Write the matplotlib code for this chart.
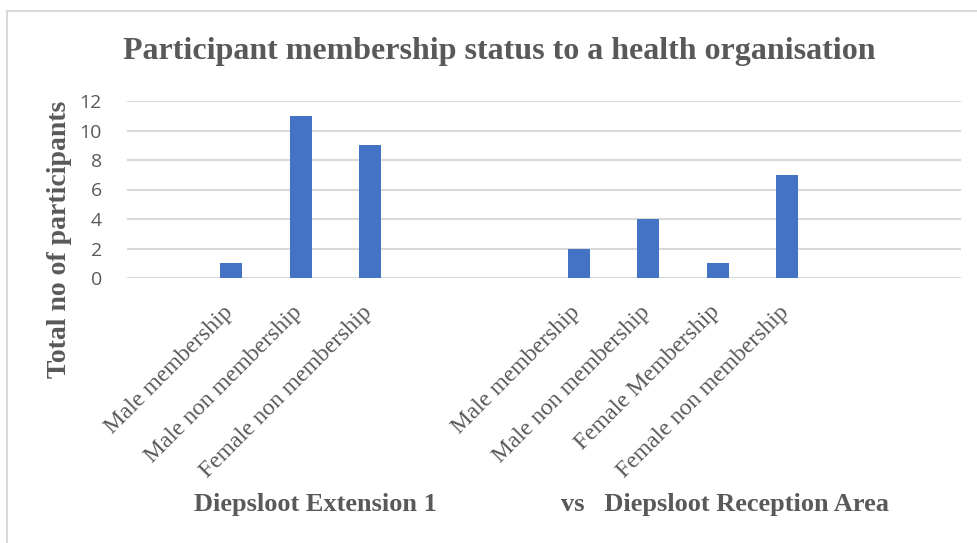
import matplotlib.pyplot as plt
import numpy as np
from matplotlib.lines import Line2D
from matplotlib.transforms import ScaledTranslation

# Category slots along the x axis (blank slots keep the two sites apart)
categories = [
    "",
    "Male membership",
    "Male non membership",
    "Female non membership",
    "",
    "",
    "Male membership",
    "Male non membership",
    "Female Membership",
    "Female non membership",
    "",
    "",
]
participants = [np.nan, 1, 11, 9, np.nan, np.nan, 2, 4, 1, 7, np.nan, np.nan]
y_ticks = [0, 2, 4, 6, 8, 10, 12]

title = "Participant membership status to a health organisation"
y_title = "Total no of participants"
site_a = "Diepsloot Extension 1"
site_b = "vs   Diepsloot Reception Area"

BAR = "#4472C4"
GRID = "#D9D9D9"
TEXT = "#595959"
SERIF = "Liberation Serif"
SANS = "Open Sans"

W, H = 977, 543
fig = plt.figure(figsize=(W / 100, H / 100), dpi=100)
ax = fig.add_axes([127 / W, 1 - 278 / H, (961 - 127) / W, (278 - 101) / H])

x = np.arange(len(categories))
ax.bar(x, participants, width=0.31, color=BAR, zorder=3)

ax.set_xlim(-0.5, len(categories) - 0.5)
ax.set_ylim(0, 12)
ax.set_yticks(y_ticks)
ax.set_yticklabels([str(v) for v in y_ticks], fontsize=14, color=TEXT, family=SANS)
ax.set_xticks(x)
ax.set_xticklabels(categories, rotation=45, ha="right", va="top",
                   rotation_mode="anchor", fontsize=17, color=TEXT, family=SERIF)
ax.tick_params(axis="both", length=0)
ax.tick_params(axis="x", pad=17)
ax.tick_params(axis="y", pad=18)
ax.grid(axis="y", color=GRID, linewidth=1.5, zorder=0)
for side in ax.spines.values():
    side.set_visible(False)

# nudge the slanted labels so their ends sit under the bars
nudge = ScaledTranslation(-9 / 100, 0, fig.dpi_scale_trans)
for lab in ax.get_xticklabels():
    lab.set_transform(lab.get_transform() + nudge)

fig.text(0.5 * (123 + 875) / W, 1 - 51 / H, title, ha="center", va="center",
         fontsize=23, fontweight="bold", color=TEXT, family=SERIF)
fig.text(60 / W, 1 - 239 / H, y_title, rotation=90, ha="center", va="center",
         fontsize=20, fontweight="bold", color=TEXT, family=SERIF)
fig.text(315 / W, 1 - 505 / H, site_a, ha="center", va="center",
         fontsize=19, fontweight="bold", color=TEXT, family=SERIF)
fig.text(725 / W, 1 - 505 / H, site_b, ha="center", va="center",
         fontsize=19, fontweight="bold", color=TEXT, family=SERIF)

# light frame along the top and left edges
fig.add_artist(Line2D([7 / W, 1], [1 - 11 / H] * 2, color=GRID, linewidth=1.5))
fig.add_artist(Line2D([7 / W] * 2, [0, 1 - 11 / H], color=GRID, linewidth=1.5))

fig.savefig("out.png", dpi=100)
